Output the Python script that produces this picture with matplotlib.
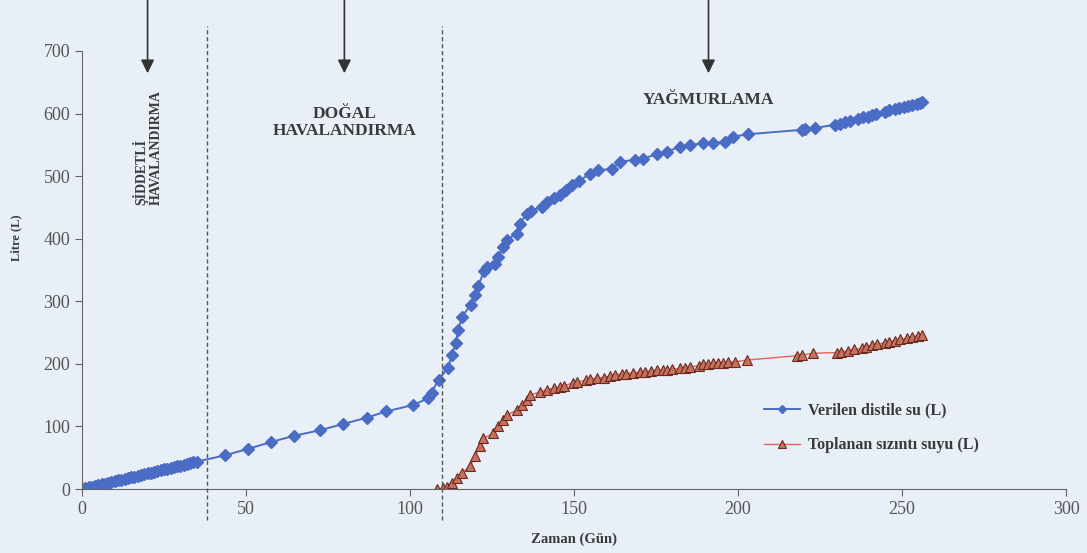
import matplotlib
matplotlib.use('Agg')
import matplotlib.pyplot as plt

# Verilen distile su (L)
blue_days = [0, 1, 2, 3, 4, 5, 6, 7, 8, 9, 10, 11, 12, 13, 14, 15, 16, 17, 18, 19,
             20, 21, 22, 23, 24, 25, 26, 27, 28, 29, 30, 31, 32, 33, 34, 35,
             43.7, 50.5, 57.6, 64.6, 72.6, 79.7, 86.8, 92.7, 100.8, 105.6, 106.6,
             108.7, 111.7, 112.7, 114, 114.7, 115.8, 118.5, 119.8, 120.8, 122.6,
             123.5, 125.9, 126.9, 128.4, 129.5, 132.5, 133.5, 135.6, 137, 140.1,
             141.7, 144, 145.7, 147.5, 149.3, 151.5, 154.9, 157.4, 161.5, 164,
             168.6, 171.1, 175.2, 178.3, 182.3, 185.4, 189.4, 192.5, 196, 198.6,
             203.1, 219.4, 220.5, 223.5, 229.5, 231.1, 232.5, 234.1, 236.5, 238.2,
             239.5, 240.7, 242, 244.8, 246, 247.9, 249, 250.5, 251.9, 253, 254.5,
             255.5, 256]
blue_vals = [0, 1.2, 2.5, 3.7, 5.0, 6.2, 7.5, 8.7, 10, 11.2, 12.5, 13.7, 15, 16.2,
             17.5, 18.7, 20, 21.2, 22.5, 23.7, 25, 26.2, 27.5, 28.7, 30, 31.2, 32.5,
             33.7, 35, 36.2, 37.5, 38.7, 40, 41.2, 42.5, 43.7,
             54, 64, 75, 85, 94, 104, 114, 124, 134, 145, 154,
             175, 194, 214, 234, 254, 275, 294, 310, 324, 349,
             355, 360, 371, 387, 398, 408, 424, 440, 445, 451,
             459, 465, 470, 478, 486, 492, 504, 510, 511, 523,
             526, 528, 535, 539, 547, 549, 553, 553, 555, 563,
             567, 574, 575, 577, 582, 584, 586, 588, 591, 594,
             595, 597, 599, 603, 605, 607, 609, 611, 612, 614, 616,
             617, 619]

# Toplanan sızıntı suyu (L)
red_days = [108.3, 110, 111.2, 112.7, 114.2, 115.8, 118.3, 119.8, 121.3, 122.3,
            125.4, 126.9, 128.4, 129.5, 132.5, 134, 135.6, 136.6, 139.6, 141.7,
            144, 145.7, 147, 149.8, 151, 153.8, 155, 156.9, 159, 161, 162.5, 164.5,
            166, 168.1, 170, 171.6, 173.5, 175.2, 177, 178.3, 180, 182.3, 183.8,
            185.4, 188, 189.4, 191, 192.5, 194, 195.5, 197, 199, 202.6, 217.9,
            219.5, 223, 230.1, 231.5, 233.6, 235.5, 237.7, 239, 240.7, 242.5,
            244.8, 246, 247.9, 249.5, 251.4, 253, 255, 256]
red_vals = [0, 1, 4, 9, 17, 26, 36, 52, 68, 81,
            89, 100, 110, 118, 126, 134, 142, 150, 155, 159,
            161, 163, 165, 170, 171, 174, 176, 177, 178, 180.5, 182, 184,
            184.5, 186, 186.5, 187, 188, 190, 190, 190.5, 191, 193, 194,
            195, 197, 199, 200, 201, 201.5, 202, 202.5, 203, 206, 213,
            214, 217, 218, 219, 221, 223, 225, 227, 230, 231,
            234, 235, 237, 239, 241, 243, 245, 246]

phase_lines = [38.1, 109.8]
arrow_days = [20, 80, 191]

bg = '#e9eff7'
txt = '#3a3a3a'
plt.rcParams['font.family'] = ['Liberation Serif', 'DejaVu Serif']

fig = plt.figure(figsize=(10.87, 5.53), dpi=100, facecolor=bg)
ax = fig.add_axes([0.0754, 0.1157, 0.9053, 0.7921], facecolor=bg)

ax.plot(blue_days, blue_vals, color='#4a6cc4', lw=1.4, marker='D', ms=6.5,
        mfc='#4a6cc4', mec='#4a6cc4', label='Verilen distile su (L)')
ax.plot(red_days, red_vals, color='#e8605a', lw=1, marker='^', ms=7.5,
        mfc='#c8705e', mec='#6a2a20', mew=0.8, label='Toplanan sızıntı suyu (L)')

# phase separators
for x in phase_lines:
    ax.plot([x, x], [-50, 740], color='#555555', lw=1, ls=(0, (3, 2)), clip_on=False)

# arrows
for x in arrow_days:
    ax.annotate('', xy=(x, 660), xytext=(x, 790), annotation_clip=False,
                arrowprops=dict(arrowstyle='-|>', color='#333333', lw=1.2,
                                mutation_scale=20))

ax.text(20, 545, 'ŞİDDETLİ\nHAVALANDIRMA', rotation=90, ha='center', va='center',
        multialignment='left', fontsize=10, fontweight='bold', color=txt)
ax.text(80.2, 586, 'DOĞAL\nHAVALANDIRMA', ha='center', va='center',
        multialignment='center', fontsize=12.5, fontweight='bold', color=txt,
        linespacing=1.1)
ax.text(190.9, 621, 'YAĞMURLAMA', ha='center', va='center',
        fontsize=12.5, fontweight='bold', color=txt)

ax.set_xlim(0, 300)
ax.set_ylim(0, 700)
ax.set_xticks(range(0, 301, 50))
ax.set_yticks(range(0, 701, 100))
ax.spines['top'].set_visible(False)
ax.spines['right'].set_visible(False)
for s in ['left', 'bottom']:
    ax.spines[s].set_color('#666666')
ax.tick_params(colors='#666666', labelcolor='#555555', labelsize=13,
               direction='out', length=5)

ax.set_xlabel('Zaman (Gün)', fontsize=10.5, fontweight='bold', color=txt)
ax.xaxis.set_label_coords(0.5, -0.1)
ax.set_ylabel('Litre (L)', fontsize=9, fontweight='bold', color=txt)
ax.yaxis.set_label_coords(-0.061, 0.573)

leg = ax.legend(loc='center left', bbox_to_anchor=(0.678, 0.14), frameon=False,
                prop={'size': 11.5, 'weight': 'bold'}, labelspacing=1.2,
                handlelength=2.3, handletextpad=0.5, markerscale=0.7)
for t in leg.get_texts():
    t.set_color(txt)

fig.savefig('out.png', dpi=100, facecolor=bg)
